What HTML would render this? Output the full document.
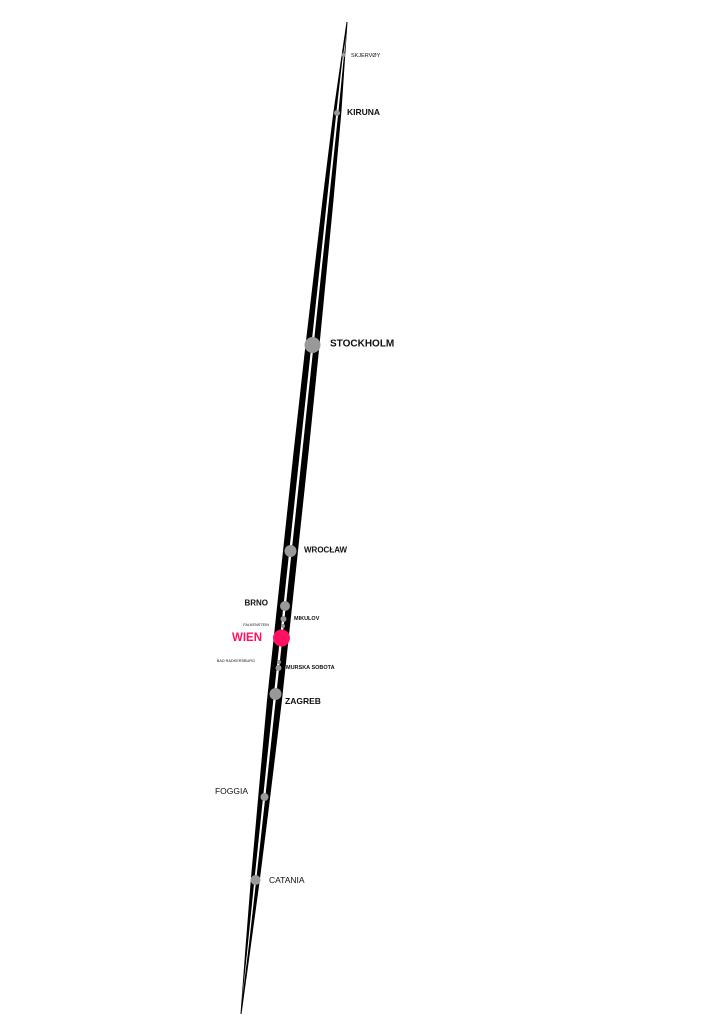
<!DOCTYPE html>
<html><head><meta charset="utf-8"><style>html,body{margin:0;padding:0;background:#fff}svg{display:block}text{font-family:"Liberation Sans",sans-serif;fill:#111;dominant-baseline:central}</style></head><body>
<svg width="724" height="1024" viewBox="0 0 724 1024" xmlns="http://www.w3.org/2000/svg">
<polygon fill="#000" points="346.5,22 340.9,60 333.4,112 322.5,200 305.5,345 293.8,450 283.1,550 273.8,637 267,700 258.2,797 250.8,880 245.3,950 240.5,1014 241.5,1014 250.3,950 259.8,880 270.2,797 282,700 288.8,637 298.1,550 308.8,450 319.5,345 333.5,200 341.4,112 344.9,60 347.5,22"/>
<polygon fill="#fff" points="346.5,34 342.3,60 336.4,112 327,200 311.4,345 300.1,450 289.4,550 280.1,637 273.3,700 263.1,797 254.4,880 247.3,950 242,1000 248.3,950 256.2,880 265.3,797 275.7,700 282.5,637 291.8,550 302.5,450 313.6,345 329,200 338.4,112 343.5,60"/>
<g fill="#999">
<circle cx="343.5" cy="55" r="2"/><circle cx="337" cy="113" r="3"/><circle cx="312.5" cy="345" r="8"/>
<circle cx="290.5" cy="551" r="6"/><circle cx="285" cy="606" r="5"/><circle cx="283.5" cy="619" r="3"/>
<circle cx="283" cy="626" r="2"/><circle cx="279" cy="662" r="2"/><circle cx="278.5" cy="668" r="3"/>
<circle cx="275.5" cy="694" r="6"/><circle cx="264.5" cy="797" r="4"/><circle cx="255.5" cy="880" r="5"/>
</g>
<circle cx="281.5" cy="638" r="8.5" fill="#ff1060"/>
<text x="351" y="56" font-size="5.5">SKJERVØY</text>
<text x="347" y="112" font-size="8.5" font-weight="bold">KIRUNA</text>
<text x="330" y="344" font-size="10" font-weight="bold">STOCKHOLM</text>
<text x="304" y="550" font-size="8" font-weight="bold">WROCŁAW</text>
<text x="268" y="603" font-size="8" font-weight="bold" text-anchor="end">BRNO</text>
<text x="294" y="619" font-size="5.5" font-weight="bold">MIKULOV</text>
<text x="269" y="625" font-size="3.8" text-anchor="end">FALKENSTEIN</text>
<text x="262" y="638" font-size="11.5" font-weight="bold" text-anchor="end" style="fill:#ff1060">WIEN</text>
<text x="255" y="661" font-size="3.8" text-anchor="end">BAD RADKERSBURG</text>
<text x="286" y="668" font-size="5.5" font-weight="bold">MURSKA  SOBOTA</text>
<text x="285" y="701" font-size="8.5" font-weight="bold">ZAGREB</text>
<text x="248" y="791" font-size="8.5" text-anchor="end">FOGGIA</text>
<text x="269" y="880" font-size="8.5">CATANIA</text>
</svg>
</body></html>
